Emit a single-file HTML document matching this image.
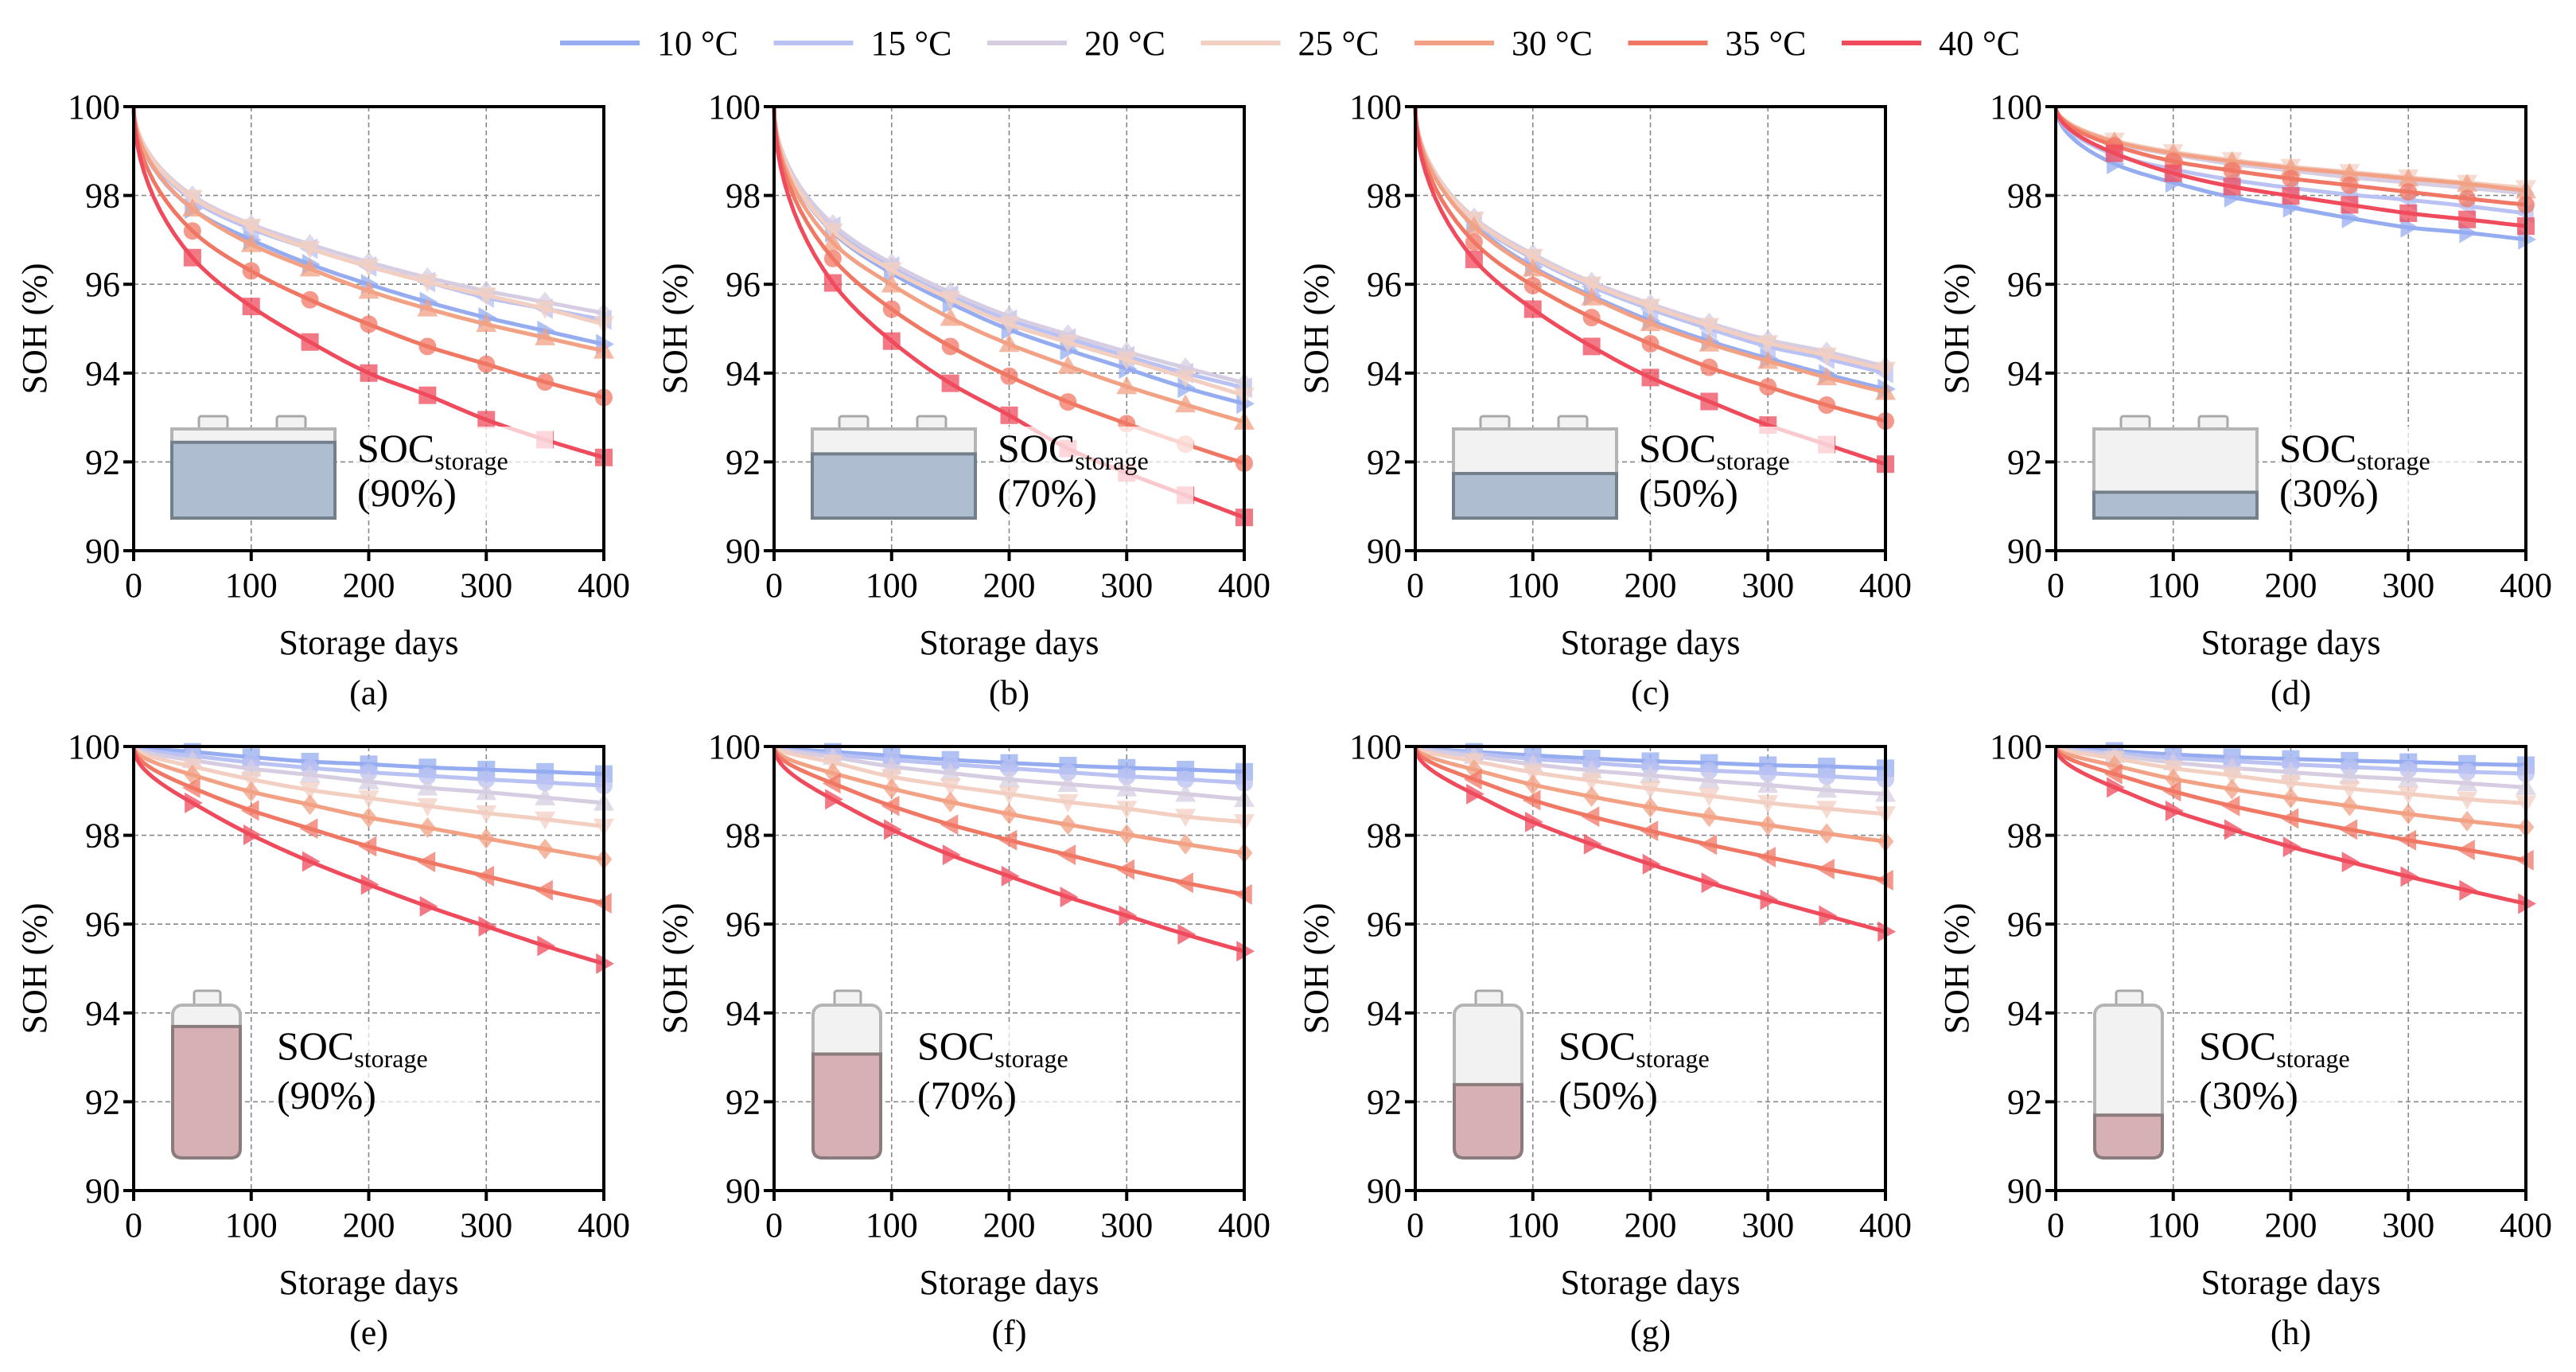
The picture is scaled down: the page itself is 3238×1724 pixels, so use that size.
<!DOCTYPE html>
<html><head><meta charset="utf-8">
<style>
html,body{margin:0;padding:0;background:#fff;}
svg{display:block;}
svg text{font-family:"Liberation Serif","DejaVu Serif",serif;}
</style></head>
<body>
<svg id="fig" xmlns="http://www.w3.org/2000/svg" width="3238" height="1724" viewBox="0 0 3238 1724" font-family="Liberation Serif, serif"></svg>
<script>
const days = [50,100,150,200,250,300,350,400];
const temps = ["10 °C","15 °C","20 °C","25 °C","30 °C","35 °C","40 °C"];
const xTicks = [0,100,200,300,400];
const yTicks = [90,92,94,96,98,100];
const panelLetters = ["(a)","(b)","(c)","(d)","(e)","(f)","(g)","(h)"];
const socLevels = [90,70,50,30,90,70,50,30];
// series order: 10,15,20,25,30,35,40 °C
const sohA = [
 [97.7,97.0,96.45,96.0,95.6,95.25,94.95,94.65],
 [97.9,97.25,96.8,96.4,96.05,95.7,95.45,95.2],
 [98.0,97.35,96.9,96.5,96.15,95.85,95.6,95.35],
 [97.95,97.3,96.8,96.4,96.05,95.75,95.45,95.1],
 [97.7,96.9,96.35,95.85,95.45,95.1,94.8,94.5],
 [97.2,96.3,95.65,95.1,94.6,94.2,93.8,93.45],
 [96.6,95.5,94.7,94.0,93.5,92.95,92.5,92.1]];
const sohB = [
 [97.17,96.25,95.57,94.98,94.52,94.1,93.67,93.31],
 [97.3,96.4,95.75,95.2,94.78,94.38,94.0,93.67],
 [97.35,96.47,95.82,95.28,94.87,94.48,94.12,93.78],
 [97.2,96.32,95.67,95.1,94.69,94.3,93.9,93.5],
 [96.94,95.99,95.24,94.65,94.16,93.7,93.29,92.9],
 [96.58,95.44,94.6,93.93,93.35,92.86,92.4,91.97],
 [96.03,94.72,93.77,93.05,92.3,91.75,91.25,90.75]];
const sohC = [
 [97.34,96.39,95.74,95.18,94.72,94.33,93.97,93.64],
 [97.42,96.58,95.95,95.44,95.0,94.6,94.32,94.0],
 [97.5,96.68,96.05,95.56,95.13,94.75,94.48,94.15],
 [97.46,96.62,96.0,95.5,95.07,94.68,94.4,94.08],
 [97.3,96.35,95.7,95.12,94.66,94.27,93.9,93.57],
 [96.95,95.97,95.25,94.66,94.13,93.69,93.28,92.92],
 [96.56,95.44,94.6,93.9,93.36,92.83,92.39,91.95]];
const sohD = [
 [98.71,98.29,97.96,97.73,97.49,97.28,97.16,97.01],
 [98.92,98.59,98.35,98.17,98.02,97.9,97.76,97.6],
 [99.18,98.92,98.71,98.56,98.41,98.29,98.17,98.05],
 [99.24,98.98,98.8,98.65,98.53,98.41,98.29,98.17],
 [99.21,98.95,98.77,98.62,98.5,98.38,98.26,98.11],
 [99.12,98.77,98.56,98.38,98.23,98.08,97.93,97.79],
 [98.95,98.5,98.2,97.99,97.79,97.6,97.46,97.31]];
const sohE = [
 [99.88,99.76,99.66,99.6,99.53,99.48,99.43,99.38],
 [99.79,99.64,99.52,99.42,99.34,99.26,99.19,99.12],
 [99.69,99.5,99.36,99.21,99.07,98.97,98.85,98.73],
 [99.55,99.26,99.02,98.84,98.66,98.5,98.36,98.2],
 [99.36,98.98,98.69,98.4,98.17,97.93,97.69,97.46],
 [99.07,98.56,98.15,97.75,97.4,97.08,96.76,96.47],
 [98.73,98.01,97.41,96.89,96.4,95.95,95.51,95.11]];
const sohF = [
 [99.88,99.79,99.7,99.63,99.57,99.52,99.48,99.43],
 [99.82,99.7,99.6,99.51,99.42,99.33,99.26,99.18],
 [99.76,99.55,99.4,99.26,99.15,99.05,98.93,98.81],
 [99.64,99.32,99.11,98.93,98.75,98.6,98.42,98.3],
 [99.4,99.05,98.75,98.48,98.24,98.02,97.8,97.6],
 [99.17,98.66,98.24,97.89,97.56,97.23,96.93,96.67],
 [98.81,98.13,97.56,97.08,96.61,96.19,95.77,95.39]];
const sohG = [
 [99.88,99.8,99.73,99.67,99.63,99.58,99.55,99.51],
 [99.84,99.72,99.63,99.54,99.46,99.4,99.33,99.26],
 [99.78,99.6,99.46,99.35,99.23,99.13,99.02,98.93],
 [99.67,99.42,99.23,99.05,98.89,98.73,98.6,98.48],
 [99.48,99.14,98.87,98.63,98.42,98.23,98.04,97.86],
 [99.26,98.79,98.42,98.1,97.79,97.51,97.24,96.99],
 [98.93,98.3,97.8,97.35,96.93,96.55,96.19,95.83]];
const sohH = [
 [99.9,99.82,99.76,99.72,99.68,99.65,99.61,99.58],
 [99.85,99.74,99.67,99.6,99.54,99.48,99.43,99.39],
 [99.8,99.64,99.52,99.42,99.33,99.26,99.17,99.08],
 [99.73,99.51,99.35,99.18,99.05,98.93,98.81,98.72],
 [99.57,99.27,99.04,98.84,98.66,98.48,98.32,98.18],
 [99.38,98.99,98.66,98.38,98.13,97.89,97.67,97.44],
 [99.08,98.55,98.13,97.74,97.4,97.07,96.76,96.46]];
const panelsData = [sohA,sohB,sohC,sohD,sohE,sohF,sohG,sohH];

const colors = ["#96acf0","#b9c2f2","#d7cde2","#f2cfc1","#f2a184","#f07764","#ef4b5c"];
const topMarkers = ["rtri","ltri","diamond","dtri","utri","circle","square"];
const botMarkers = ["square","circle","utri","dtri","diamond","ltri","rtri"];

const NS = "http://www.w3.org/2000/svg";
const FONT = '"Liberation Serif", "DejaVu Serif", serif';
const svg = document.getElementById('fig');
function mk(tag, attrs, parent){
  const e = document.createElementNS(NS, tag);
  for (const k in attrs) e.setAttribute(k, attrs[k]);
  if (tag==='text') e.style.fontFamily = FONT;
  (parent||svg).appendChild(e);
  return e;
}
const lefts = [168,973,1779,2584], tops = [134,938], PW = 591, PH = 558;

const legend = mk('g',{});


temps.forEach((t,i)=>{
  const x0 = 704 + i*268.5;
  const g = mk('g',{},legend);
  
  
  mk('line',{x1:x0,y1:54,x2:x0+100,y2:54,stroke:colors[i],'stroke-width':6},g);
  const tx = mk('text',{x:x0+122,y:69,'font-size':44,fill:'#000'},g);
  tx.textContent = t;
});

function monoInterp(xs, ys, n){
  const m = xs.length, d=[], s=[];
  for(let i=0;i<m-1;i++) d.push((ys[i+1]-ys[i])/(xs[i+1]-xs[i]));
  s[0]=d[0]; s[m-1]=d[m-2];
  for(let i=1;i<m-1;i++) s[i] = (d[i-1]*d[i]<=0)?0:(d[i-1]+d[i])/2;
  for(let i=0;i<m-1;i++){ if(d[i]===0){s[i]=s[i+1]=0;continue;}
    const a=s[i]/d[i], b=s[i+1]/d[i], h=a*a+b*b; if(h>9){const t=3/Math.sqrt(h); s[i]=t*a*d[i]; s[i+1]=t*b*d[i];}}
  const out=[];
  for(let i=0;i<m-1;i++){
    const h=xs[i+1]-xs[i];
    for(let k=0;k<n;k++){
      const t=k/n, t2=t*t, t3=t2*t;
      const y=(2*t3-3*t2+1)*ys[i]+(t3-2*t2+t)*h*s[i]+(-2*t3+3*t2)*ys[i+1]+(t3-t2)*h*s[i+1];
      out.push([xs[i]+t*h, y]);
    }
  }
  out.push([xs[m-1],ys[m-1]]);
  return out;
}

function marker(g, type, cx, cy, color){
  const r=11; let el;
  const attrs = {fill:color,'fill-opacity':0.75};
  if(type==='circle') el=mk('circle',Object.assign({cx,cy,r:r},attrs),g);
  else if(type==='square') el=mk('rect',Object.assign({x:cx-r,y:cy-r,width:2*r,height:2*r},attrs),g);
  else {
    let p;
    const R=13;
    if(type==='diamond') p=[[cx,cy-R],[cx+R*0.8,cy],[cx,cy+R],[cx-R*0.8,cy]];
    if(type==='utri') p=[[cx,cy-R],[cx+R,cy+R*0.75],[cx-R,cy+R*0.75]];
    if(type==='dtri') p=[[cx,cy+R],[cx+R,cy-R*0.75],[cx-R,cy-R*0.75]];
    if(type==='rtri') p=[[cx+R,cy],[cx-R*0.75,cy-R],[cx-R*0.75,cy+R]];
    if(type==='ltri') p=[[cx-R,cy],[cx+R*0.75,cy-R],[cx+R*0.75,cy+R]];
    el=mk('polygon',Object.assign({points:p.map(q=>q.join(',')).join(' ')},attrs),g);
  }
  return el;
}

panelsData.forEach((data, pi)=>{
  const row = pi<4?0:1, col = pi%4;
  const L=lefts[col], T=tops[row];
  const xs = v => L + v/400*PW;
  const ys = v => T + (100-v)/10*PH;
  const pg = mk('g',{});
  
  
  const grid = mk('g',{stroke:'#888','stroke-width':1.6,'stroke-dasharray':'6,4'},pg);
  
  
  xTicks.slice(1,-1).forEach(v=>mk('line',{x1:xs(v),y1:T,x2:xs(v),y2:T+PH},grid));
  yTicks.slice(1,-1).forEach(v=>mk('line',{x1:L,y1:ys(v),x2:L+PW,y2:ys(v)},grid));
  const markers = row===0?topMarkers:botMarkers;
  data.forEach((ser, si)=>{
    const g = mk('g',{},pg);
    
    
    const us=[0].concat(days.map(d=>Math.sqrt(d)));
    const vs=[100].concat(ser);
    const pts = monoInterp(us, vs, 12).map(p=>[xs(p[0]*p[0]), ys(p[1])]);
    mk('path',{d:'M'+pts.map(p=>p[0].toFixed(1)+','+p[1].toFixed(1)).join(' L'),fill:'none',stroke:colors[si],'stroke-width':5,'stroke-linejoin':'round'},g);
    ser.forEach((v,k)=>{
      const m = marker(g, markers[si], xs(days[k]), ys(v), colors[si]);
      
      
    });
  });
  const ax = mk('rect',{x:L,y:T,width:PW,height:PH,fill:'none',stroke:'#000','stroke-width':4},pg);
  
  
  xTicks.forEach(v=>{
    mk('line',{x1:xs(v),y1:T+PH,x2:xs(v),y2:T+PH+13,stroke:'#000','stroke-width':4},pg);
    const t=mk('text',{x:xs(v),y:T+PH+58,'font-size':44,'text-anchor':'middle'},pg);
    
    
    t.textContent=v;
  });
  yTicks.forEach(v=>{
    mk('line',{x1:L-13,y1:ys(v),x2:L,y2:ys(v),stroke:'#000','stroke-width':4},pg);
    const t=mk('text',{x:L-17,y:ys(v)+15,'font-size':44,'text-anchor':'end'},pg);
    
    
    t.textContent=v;
  });
  const xt=mk('text',{x:L+PW/2,y:T+PH+130,'font-size':44,'text-anchor':'middle'},pg);
  
  
  xt.textContent='Storage days';
  const lt=mk('text',{x:L+PW/2,y:T+PH+193,'font-size':44,'text-anchor':'middle'},pg);
  
  
  lt.textContent=panelLetters[pi];
  const yt=mk('text',{x:0,y:0,'font-size':44,'text-anchor':'middle',transform:`translate(${L-110},${T+PH/2}) rotate(-90)`},pg);
  
  
  yt.textContent='SOH (%)';

  const soc = socLevels[pi];
  const bg = mk('g',{},pg);
  
  
  let tx, ty1, ty2;
  if(row===0){
    const bx=L+48, bw=205, by=T+405, bh=112;
    mk('rect',{x:bx+34,y:by-16,width:36,height:16,rx:3,fill:'#f2f2f2',stroke:'#a8a8a8','stroke-width':3},bg);
    mk('rect',{x:bx+132,y:by-16,width:36,height:16,rx:3,fill:'#f2f2f2',stroke:'#a8a8a8','stroke-width':3},bg);
    mk('rect',{x:bx,y:by,width:bw,height:bh,fill:'#f2f2f2',stroke:'#b4b4b4','stroke-width':4},bg);
    const fh = bh*({90:0.85,70:0.72,50:0.5,30:0.29}[soc]);
    mk('rect',{x:bx,y:by+bh-fh,width:bw,height:fh,fill:'#aebdd0',stroke:'#747f8c','stroke-width':4},bg);
    tx=L+281; ty1=T+446; ty2=T+502;
  } else {
    const bx=L+49, bw=85, by=T+325, bh=192;
    mk('rect',{x:bx+27,y:by-18,width:33,height:18,rx:3,fill:'#f2f2f2',stroke:'#a8a8a8','stroke-width':3},bg);
    mk('rect',{x:bx,y:by,width:bw,height:bh,rx:12,fill:'#f2f2f2',stroke:'#b4b4b4','stroke-width':4},bg);
    const fh = bh*({90:0.86,70:0.68,50:0.48,30:0.28}[soc]);
    mk('path',{d:`M${bx},${by+bh-fh} H${bx+bw} V${by+bh-12} Q${bx+bw},${by+bh} ${bx+bw-12},${by+bh} H${bx+12} Q${bx},${by+bh} ${bx},${by+bh-12} Z`,fill:'#d6b0b2',stroke:'#8a7c7d','stroke-width':4},bg);
    tx=L+180; ty1=T+393; ty2=T+455;
  }
  const lbg = mk('rect',{x:tx-4,y:ty1-44,width:250,height:118,fill:'#fff','fill-opacity':0.7},pg);
  
  
  const s1=mk('text',{x:tx,y:ty1,'font-size':50},pg);
  
  
  s1.textContent='SOC';
  const sub=mk('tspan',{'font-size':32,dy:10},s1);
  sub.textContent='storage';
  const s2=mk('text',{x:tx,y:ty2,'font-size':50},pg);
  
  
  s2.textContent='('+soc+'%)';
});
</script>
</body></html>
